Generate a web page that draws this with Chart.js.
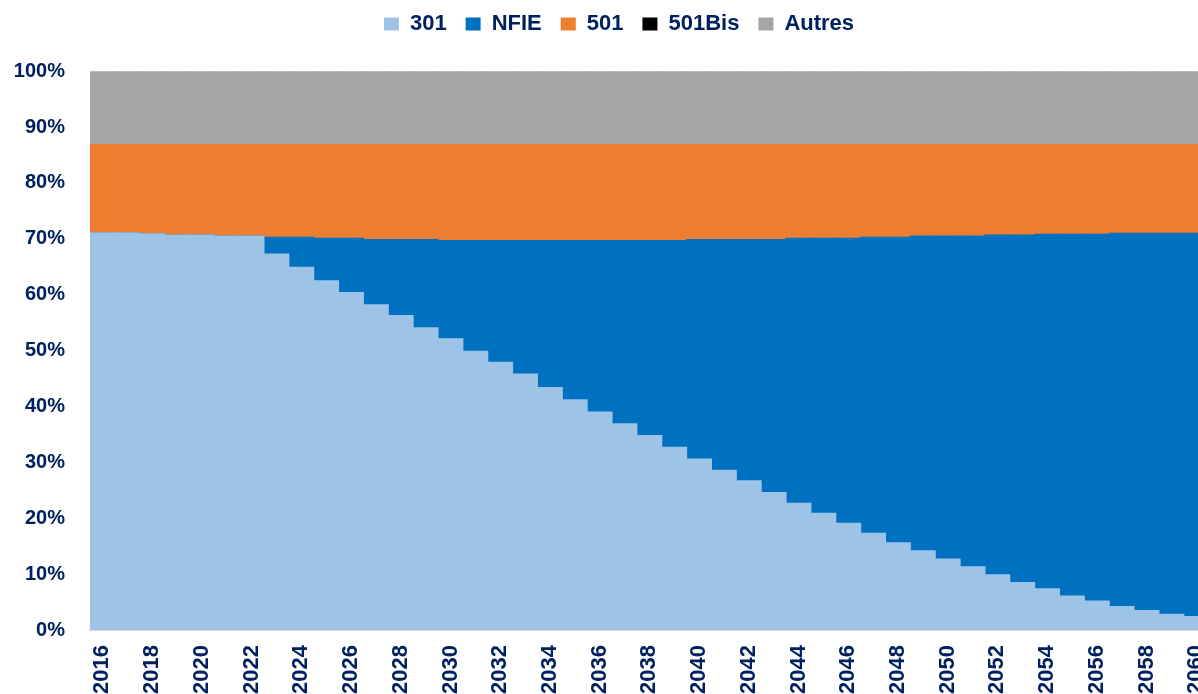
<!DOCTYPE html>
<html>
<head>
<meta charset="utf-8">
<script src="https://cdn.jsdelivr.net/npm/chart.js@4/dist/chart.umd.min.js"></script>
<style>
  html, body { margin: 0; padding: 0; background: #fff; overflow: hidden; width: 1198px; height: 694px; }
  #wrap { position: absolute; left: 0; top: 0; width: 1238px; height: 730px; }
</style>
</head>
<body>
<div id="wrap"><canvas id="chart" width="1238" height="730"></canvas></div>
<script>
// Répartition (en %) par régime, 2016-2060
const years = [
  '2016','2017','2018','2019','2020','2021','2022','2023','2024','2025',
  '2026','2027','2028','2029','2030','2031','2032','2033','2034','2035',
  '2036','2037','2038','2039','2040','2041','2042','2043','2044','2045',
  '2046','2047','2048','2049','2050','2051','2052','2053','2054','2055',
  '2056','2057','2058','2059','2060'
];

const share301 = [
  71.1, 71.1, 70.9, 70.7, 70.7, 70.5, 70.5, 67.3, 64.9, 62.5,
  60.4, 58.2, 56.3, 54.1, 52.1, 49.9, 47.9, 45.8, 43.4, 41.2,
  39.0, 36.9, 34.8, 32.7, 30.6, 28.6, 26.7, 24.6, 22.7, 20.9,
  19.1, 17.3, 15.6, 14.2, 12.7, 11.3, 9.9, 8.5, 7.4, 6.1,
  5.2, 4.2, 3.5, 2.8, 2.4
];

const shareNFIE = [
  0.0, 0.0, 0.0, 0.0, 0.0, 0.0, 0.0, 3.0, 5.4, 7.6,
  9.7, 11.7, 13.6, 15.8, 17.6, 19.8, 21.8, 23.9, 26.3, 28.5,
  30.7, 32.8, 34.9, 37.0, 39.3, 41.3, 43.2, 45.3, 47.4, 49.2,
  51.0, 53.0, 54.7, 56.3, 57.8, 59.2, 60.8, 62.2, 63.4, 64.7,
  65.6, 66.8, 67.5, 68.2, 68.6
];

const share501 = [
  15.8, 15.8, 16.0, 16.2, 16.2, 16.4, 16.4, 16.6, 16.6, 16.8,
  16.8, 17.0, 17.0, 17.0, 17.2, 17.2, 17.2, 17.2, 17.2, 17.2,
  17.2, 17.2, 17.2, 17.2, 17.0, 17.0, 17.0, 17.0, 16.8, 16.8,
  16.8, 16.6, 16.6, 16.4, 16.4, 16.4, 16.2, 16.2, 16.1, 16.1,
  16.1, 15.9, 15.9, 15.9, 15.9
];

const share501Bis = [
  0, 0, 0, 0, 0, 0, 0, 0, 0, 0,
  0, 0, 0, 0, 0, 0, 0, 0, 0, 0,
  0, 0, 0, 0, 0, 0, 0, 0, 0, 0,
  0, 0, 0, 0, 0, 0, 0, 0, 0, 0,
  0, 0, 0, 0, 0
];

const shareAutres = [
  13.1, 13.1, 13.1, 13.1, 13.1, 13.1, 13.1, 13.1, 13.1, 13.1,
  13.1, 13.1, 13.1, 13.1, 13.1, 13.1, 13.1, 13.1, 13.1, 13.1,
  13.1, 13.1, 13.1, 13.1, 13.1, 13.1, 13.1, 13.1, 13.1, 13.1,
  13.1, 13.1, 13.1, 13.1, 13.1, 13.1, 13.1, 13.1, 13.1, 13.1,
  13.1, 13.1, 13.1, 13.1, 13.1
];

const yTicks = [0, 10, 20, 30, 40, 50, 60, 70, 80, 90, 100];

const NAVY = '#002060';
const FONT = "'Liberation Sans', Arial, sans-serif";

// Hauteur fixe du bloc légende pour caler la zone de tracé
const legendHeight = {
  id: 'legendHeight',
  beforeLayout(chart) {
    const legend = chart.legend;
    if (!legend || legend._fixedFit) return;
    const fit = legend.fit;
    legend.fit = function () {
      fit.call(this);
      this.height = 77.2;
    };
    legend._fixedFit = true;
  }
};

const ctx = document.getElementById('chart').getContext('2d');
new Chart(ctx, {
  type: 'bar',
  data: {
    labels: years,
    datasets: [
      { label: '301', data: share301, backgroundColor: '#9DC3E6' },
      { label: 'NFIE', data: shareNFIE, backgroundColor: '#0070C0' },
      { label: '501', data: share501, backgroundColor: '#ED7D31' },
      { label: '501Bis', data: share501Bis, backgroundColor: '#000000' },
      { label: 'Autres', data: shareAutres, backgroundColor: '#A5A5A5' }
    ]
  },
  plugins: [legendHeight],
  options: {
    responsive: false,
    animation: false,
    devicePixelRatio: 1,
    layout: { padding: { top: -6, left: 0, right: 0, bottom: 0 } },
    datasets: {
      bar: { barPercentage: 1, categoryPercentage: 1, borderWidth: 0, inflateAmount: 0.5 }
    },
    plugins: {
      tooltip: { enabled: false },
      legend: {
        position: 'top',
        align: 'center',
        labels: {
          boxWidth: 15,
          boxHeight: 13,
          padding: 19,
          color: NAVY,
          font: { family: FONT, size: 22, weight: 'bold' }
        }
      }
    },
    scales: {
      x: {
        stacked: true,
        grid: { display: false, drawTicks: false },
        border: { display: true, color: '#D9D9D9', width: 2 },
        ticks: {
          autoSkip: false,
          maxRotation: 90,
          minRotation: 90,
          padding: 15,
          color: NAVY,
          font: { family: FONT, size: 22, weight: 'bold' },
          callback: function (value, index) {
            return index % 2 === 0 ? this.getLabelForValue(value) : '';
          }
        },
        afterFit(scale) { scale.height = 100; }
      },
      y: {
        stacked: true,
        min: 0,
        max: 100,
        grid: { display: false, drawTicks: false },
        border: { display: false },
        afterBuildTicks(scale) { scale.ticks = yTicks.map(v => ({ value: v })); },
        ticks: {
          padding: 25,
          color: NAVY,
          font: { family: FONT, size: 20, weight: 'bold' },
          callback: v => v + '%'
        },
        afterFit(scale) { scale.width = 90; }
      },
      yRight: {
        position: 'right',
        min: 0,
        max: 100,
        grid: { display: false, drawTicks: false },
        border: { display: false },
        ticks: { display: false },
        afterFit(scale) { scale.width = 29.3; }
      }
    }
  }
});
</script>
</body>
</html>
